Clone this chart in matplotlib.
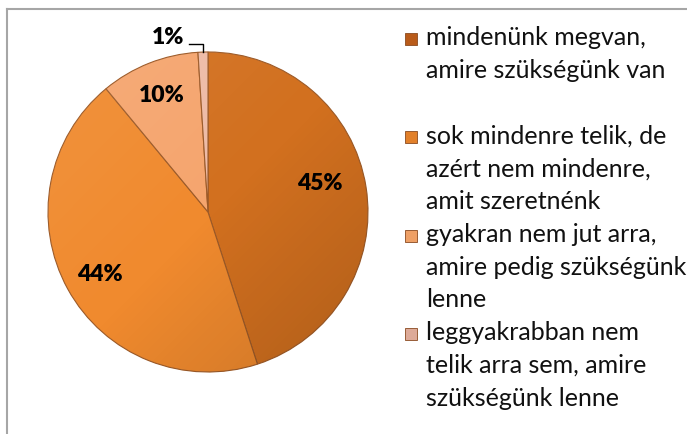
import matplotlib
matplotlib.use('Agg')
import matplotlib.pyplot as plt
import numpy as np
from matplotlib.patches import Rectangle, Circle
from matplotlib.lines import Line2D

# answers, share in percent
labels = ['mindenünk megvan,\namire szükségünk van',
          'sok mindenre telik, de\nazért nem mindenre,\namit szeretnénk',
          'gyakran nem jut arra,\namire pedig szükségünk\nlenne',
          'leggyakrabban nem\ntelik arra sem, amire\nszükségünk lenne']
values = [45, 44, 10, 1]
pct_text = ['45%', '44%', '10%', '1%']

colors = ['#D2701F', '#F08A2E', '#F5A56E', '#EEBBA6']
legend_colors = ['#B95B1A', '#E2802A', '#EEA066', '#DDAA98']

W, H = 687, 434
fig = plt.figure(figsize=(W / 100, H / 100), dpi=100)

ax = fig.add_axes([48 / W, 62 / H, 320 / W, 320 / H])
wedges, _ = ax.pie(values, colors=colors, startangle=90, counterclock=False,
                   wedgeprops=dict(edgecolor='#9C5A28', linewidth=0.8))
ax.set_xlim(-1, 1)
ax.set_ylim(-1, 1)

# soft light/dark shading over the pie
yy, xx = np.mgrid[1:-1:200j, -1:1:200j]
s = np.clip((xx - yy) / 2.0, -1, 1)
shade = np.zeros((200, 200, 4))
shade[..., :3] = np.where(s[..., None] < 0, 1.0, 0.0)
shade[..., 3] = np.abs(s) * np.where(s < 0, 0.08, 0.16)
im = ax.imshow(shade, extent=(-1, 1, -1, 1), zorder=3, interpolation='bilinear')
im.set_clip_path(Circle((0, 0), 1, transform=ax.transData))
ax.set_xlim(-1, 1)
ax.set_ylim(-1, 1)
ax.axis('off')

# percent labels
dists = [0.72, 0.78, 0.78, 1.12]
offsets = [5.5, 1, 0, 11]
for w, txt, d, off in zip(wedges, pct_text, dists, offsets):
    mid = np.deg2rad((w.theta1 + w.theta2) / 2)
    ang = mid + np.deg2rad(off)
    ax.text(d * np.cos(ang), d * np.sin(ang), txt, ha='center', va='center',
            fontsize=16.5, fontweight='heavy', family='Lato', color='black', zorder=5)

# leader line for the small slice
w = wedges[3]
mid = np.deg2rad((w.theta1 + w.theta2) / 2)
xe, ye = np.cos(mid), np.sin(mid)
ax.plot([-0.12, xe, xe], [1.05, 1.05, ye], color='black', lw=1, clip_on=False, zorder=5)

# chart frame (top and left edges visible)
fig.add_artist(Line2D([7 / W, 7 / W], [0, 1 - 9 / H], transform=fig.transFigure,
                      color='#A6A6A6', lw=1.5))
fig.add_artist(Line2D([7 / W, 1], [1 - 9 / H, 1 - 9 / H], transform=fig.transFigure,
                      color='#A6A6A6', lw=1.5))

# legend
first_base = 45
line_h = 32.8
for k, (lab, c) in enumerate(zip(labels, legend_colors)):
    base = first_base + k * 3 * line_h
    fig.add_artist(Rectangle((405 / W, 1 - base / H), 12 / W, 12 / H,
                             transform=fig.transFigure, facecolor=c,
                             edgecolor='#8A4A20', linewidth=0.6))
    for j, line in enumerate(lab.split('\n')):
        fig.text(426 / W, 1 - (base + j * line_h) / H, line, fontsize=18,
                 family='Lato', va='baseline', ha='left', color='#111111')

fig.savefig('out.png', dpi=100)
